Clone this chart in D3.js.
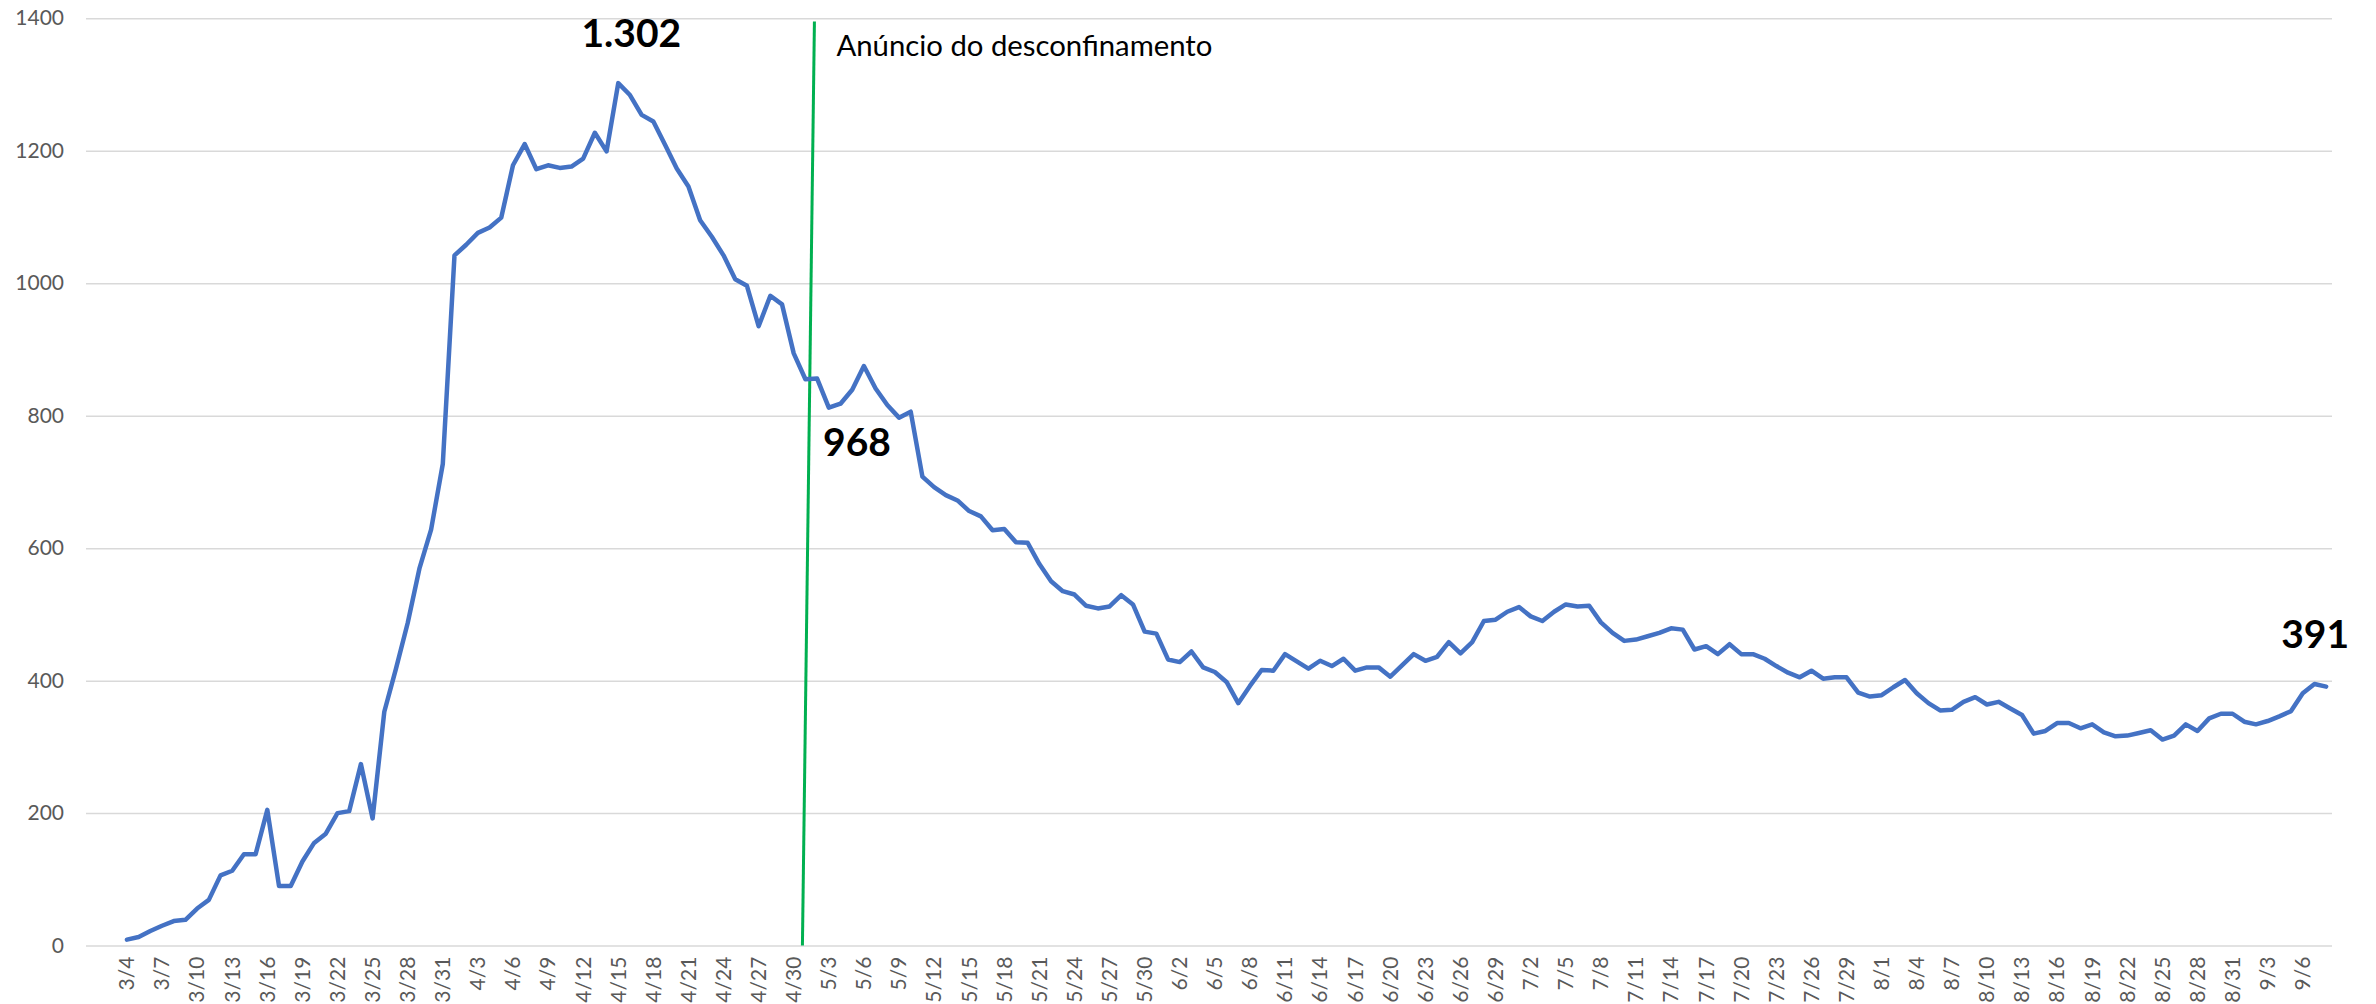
<!DOCTYPE html>
<html>
<head>
<meta charset="utf-8">
<script src="https://cdn.jsdelivr.net/npm/d3@7"></script>
<style>
  body { margin: 0; background: #fff; }
  svg { display: block; font-family: Lato, 'Open Sans', sans-serif; }
  .grid line { stroke: #d9d9d9; stroke-width: 1.5; }
  .grid .domain, .axis .domain { display: none; }
  .axis text { fill: #595959; font-size: 21px; font-family: Lato, sans-serif; }
  .series { fill: none; stroke: #4472c4; stroke-width: 4.5; stroke-linejoin: round; stroke-linecap: round; }
  .announce { stroke: #00b050; stroke-width: 3; }
  .note { font-size: 28px; fill: #000; }
  .callout { font-size: 39px; font-weight: 700; fill: #000; }
</style>
</head>
<body>
<div id="chart-container"></div>
<script>
// Axis runs from 3/1 to 9/8, first reported value is 3/4
const FIRST_DAY = new Date(2020, 2, 1);
const LAST_DAY = new Date(2020, 8, 8);
const DATA_START = new Date(2020, 2, 4);
const ANNOUNCE_DAY = new Date(2020, 4, 1);
const days = d3.timeDay.range(FIRST_DAY, d3.timeDay.offset(LAST_DAY, 1));

// daily values, 3/4 .. 9/8
const values = [
  9, 13, 22, 30, 37, 39, 56, 69, 106, 113, 138, 138, 205, 90, 90, 127,
  155, 169, 200, 203, 274, 192, 353, 418, 487, 569, 628, 727,
  1042, 1058, 1076, 1084, 1099, 1178, 1210, 1172, 1178, 1174, 1176, 1188,
  1227, 1199, 1302, 1284, 1254, 1244, 1209, 1173, 1146, 1095, 1070, 1042,
  1006, 996, 935, 981, 968, 894,
  855, 856, 812, 818, 839, 875, 841, 816, 797, 806, 708, 692, 680, 672,
  656, 648, 627, 629, 609, 608, 576, 550, 535, 530, 513, 509, 512, 529,
  515, 474, 471,
  432, 428, 444, 420, 413, 398, 366, 392, 416, 415, 440, 429, 418, 430,
  422, 433, 415, 420, 420, 406, 423, 440, 430, 436, 458, 441, 458, 490,
  492, 504,
  511, 497, 490, 504, 515, 512, 513, 488, 472, 460, 462, 467, 472, 479,
  477, 447, 452, 440, 455, 440, 440, 433, 422, 412, 405, 415, 403, 405,
  405, 382, 376,
  378, 390, 401, 381, 366, 355, 356, 368, 375, 364, 368, 358, 348, 320,
  324, 336, 336, 328, 334, 322, 316, 317, 321, 325, 311, 317, 334, 324,
  343, 350, 350,
  338, 334, 339, 346, 354, 381, 395, 391
];

const yTicks = [0, 200, 400, 600, 800, 1000, 1200, 1400];
// a label on every third day, starting at 3/4
const xTickDays = days.filter(d => d3.timeDay.count(DATA_START, d) >= 0 &&
  d3.timeDay.count(DATA_START, d) % 3 === 0);

const callouts = [
  {day: new Date(2020, 3, 15), text: '1.302'},
  {day: new Date(2020, 3, 29), text: '968'},
  {day: new Date(2020, 8, 8), text: '391'}
];
const noteText = 'Anúncio do desconfinamento';

const width = 2376,
  height = 1004;
const margin = {top: 18.2, right: 44, bottom: 58.4, left: 86};

const series = values.map((v, i) => ({day: d3.timeDay.offset(DATA_START, i), value: v}));

const svg = d3.select('#chart-container')
  .append('svg')
  .attr('width', width)
  .attr('height', height);

const xScale = d3.scaleBand()
  .domain(days)
  .range([margin.left, width - margin.right]);
const yScale = d3.scaleLinear()
  .domain([0, 1400])
  .range([height - margin.bottom, margin.top]);
const mid = d => xScale(d) + xScale.bandwidth() / 2;

// horizontal gridlines
svg.append('g')
  .attr('class', 'grid')
  .attr('transform', `translate(${margin.left}, 0)`)
  .call(d3.axisLeft(yScale).tickValues(yTicks)
    .tickSize(-(width - margin.left - margin.right)).tickFormat(''));

// y axis labels, no thousands separator
svg.append('g')
  .attr('class', 'axis y')
  .attr('transform', `translate(${margin.left}, 0)`)
  .call(d3.axisLeft(yScale).tickValues(yTicks).tickSize(0).tickPadding(22)
    .tickFormat(d3.format('d')));

// x axis labels, rotated
svg.append('g')
  .attr('class', 'axis x')
  .attr('transform', `translate(0, ${height - margin.bottom})`)
  .call(d3.axisBottom(xScale).tickValues(xTickDays).tickSize(0)
    .tickFormat(d3.timeFormat('%-m/%-d')))
  .selectAll('text')
    .attr('transform', 'rotate(-90)')
    .attr('text-anchor', 'end')
    .attr('x', -11)
    .attr('y', 0)
    .attr('dy', '0.35em');

// announcement marker (slightly slanted, as drawn in the original)
const ax = mid(ANNOUNCE_DAY);
svg.append('line')
  .attr('class', 'announce')
  .attr('x1', ax - 3)
  .attr('y1', yScale(0))
  .attr('x2', ax + 9)
  .attr('y2', yScale(1395));
svg.append('text')
  .attr('class', 'note')
  .attr('x', ax + 31)
  .attr('y', yScale(1395) + 34)
  .attr('textLength', 376)
  .attr('lengthAdjust', 'spacingAndGlyphs')
  .text(noteText);

const line = d3.line()
  .x(d => mid(d.day))
  .y(d => yScale(d.value));
svg.append('path')
  .datum(series)
  .attr('class', 'series')
  .attr('d', line);

// value callouts
const valueOf = day => series.find(s => +s.day === +day).value;
const offsets = [[13, -36], [75, 152], [-11, -39]];
svg.selectAll('text.callout')
  .data(callouts)
  .join('text')
  .attr('class', 'callout')
  .attr('text-anchor', 'middle')
  .attr('x', (d, i) => mid(d.day) + offsets[i][0])
  .attr('y', (d, i) => yScale(valueOf(d.day)) + offsets[i][1])
  .text(d => d.text);
</script>
</body>
</html>
